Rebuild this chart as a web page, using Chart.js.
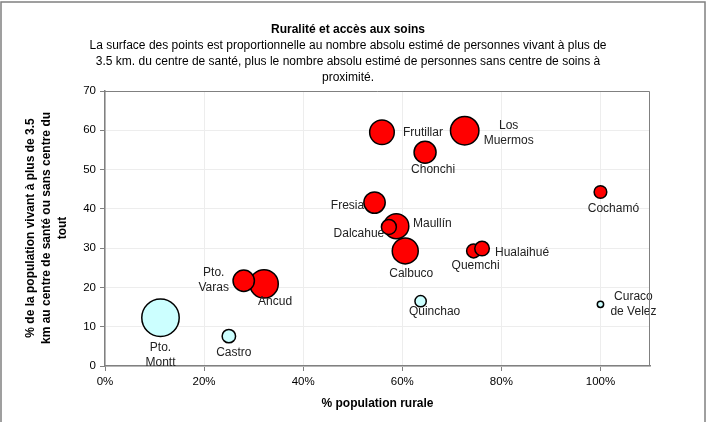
<!DOCTYPE html>
<html>
<head>
<meta charset="utf-8">
<script src="https://cdn.jsdelivr.net/npm/chart.js@4.4.1/dist/chart.umd.min.js"></script>
<style>
  html, body { margin: 0; padding: 0; background: #fff; }
  #wrap { width: 709px; height: 422px; position: relative; }
</style>
</head>
<body>
<div id="wrap"><canvas id="chart" width="709" height="422"></canvas></div>
<script>
// communes with people living far from a health centre (red)
var farNames = ["Los Muermos", "Calbuco", "Ancud", "Maullín", "Frutillar", "Chonchi",
                "Fresia", "Pto. Varas", "Dalcahue", "Quemchi", "Hualaihué", "Cochamó"];
var farRural = [72.6, 60.6, 32.1, 58.8, 55.9, 64.6, 54.4, 28.0, 57.3, 74.4, 76.1, 100];
var farPct = [59.9, 29.3, 20.9, 35.6, 59.5, 54.4, 41.6, 21.7, 35.4, 29.3, 29.9, 44.3];
var farPeople = [20200, 16900, 20200, 15600, 15100, 12100, 11400, 11400, 5600, 4900, 5300, 4000];

// the other communes (light blue)
var nearNames = ["Pto. Montt", "Castro", "Quinchao", "Curaco de Velez"];
var nearRural = [11.2, 25.0, 63.7, 100];
var nearPct = [12.3, 7.6, 16.5, 15.7];
var nearPeople = [35000, 4500, 3200, 1000];

var xTicks = [0, 20, 40, 60, 80, 100];

// where each label sits from its bubble centre: [dx, dy], line breaks with \n
var labelLayout = {
    "Pto. Montt": [0, 30, "Pto.\nMontt"],
    "Castro": [5, 17],
    "Pto. Varas": [-30, -8, "Pto.\nVaras"],
    "Ancud": [11, 18],
    "Fresia": [-27, 3],
    "Frutillar": [41, 0],
    "Dalcahue": [-30, 7],
    "Maullín": [36, -2],
    "Calbuco": [6, 23],
    "Chonchi": [8, 17],
    "Los Muermos": [44, -5, "Los\nMuermos"],
    "Quemchi": [2, 15],
    "Hualaihué": [40, 4],
    "Quinchao": [14, 11],
    "Cochamó": [13, 17],
    "Curaco de Velez": [33, -8, "Curaco\nde Velez"]
};

function points(xs, ys, people){
    var out = [];
    for (var i = 0; i < xs.length; i++){
        out.push({x: xs[i], y: ys[i], r: Math.sqrt(people[i]) / 10});
    }
    return out;
}

var FONT = "'Liberation Sans', Arial, sans-serif";

var decor = {
    id: "decor",
    beforeDraw: function(chart){
        var ctx = chart.ctx;
        ctx.save();
        ctx.fillStyle = "#fff";
        ctx.fillRect(0, 0, chart.width, chart.height);
        ctx.strokeStyle = "#808080";
        ctx.lineWidth = 1.5;
        ctx.strokeRect(1, 2, 704, 430);
        ctx.restore();
    },
    afterDraw: function(chart){
        var ctx = chart.ctx;
        var a = chart.chartArea;
        ctx.save();
        ctx.fillStyle = "#000";
        ctx.textAlign = "center";
        ctx.textBaseline = "middle";
        ctx.font = "bold 12px " + FONT;
        ctx.fillText("Ruralité et accès aux soins", 348, 30);
        ctx.font = "12px " + FONT;
        ctx.fillText("La surface des points est proportionnelle au nombre absolu estimé de personnes vivant à plus de", 348, 46);
        ctx.fillText("3.5 km. du centre de santé, plus le nombre absolu estimé de personnes sans centre de soins à", 348, 62);
        ctx.fillText("proximité.", 348, 78);

        ctx.font = "bold 12px " + FONT;
        ctx.fillText("% population rurale", (a.left + a.right) / 2, 404);
        ctx.translate(0, 228);
        ctx.rotate(-Math.PI / 2);
        ctx.fillText("% de la population vivant à plus de 3.5", 0, 31);
        ctx.fillText("km au centre de santé ou sans centre du", 0, 47);
        ctx.fillText("tout", 0, 63);
        ctx.restore();

        // plot area frame (top and right sides)
        ctx.save();
        ctx.strokeStyle = "#808080";
        ctx.lineWidth = 1;
        ctx.beginPath();
        ctx.moveTo(a.left, a.top + 0.5);
        ctx.lineTo(a.right - 0.5, a.top + 0.5);
        ctx.lineTo(a.right - 0.5, a.bottom);
        ctx.stroke();
        ctx.restore();
    },
    afterDatasetsDraw: function(chart){
        var ctx = chart.ctx;
        ctx.save();
        ctx.font = "12px " + FONT;
        ctx.fillStyle = "#222";
        ctx.textAlign = "center";
        ctx.textBaseline = "middle";
        chart.data.datasets.forEach(function(ds, di){
            var meta = chart.getDatasetMeta(di);
            meta.data.forEach(function(el, i){
                var name = ds.names[i];
                var lay = labelLayout[name];
                var lines = (lay[2] || name).split("\n");
                lines.forEach(function(t, k){
                    ctx.fillText(t, el.x + lay[0], el.y + lay[1] + k * 15);
                });
            });
        });
        ctx.restore();
    }
};

var ctx = document.getElementById("chart").getContext("2d");
new Chart(ctx, {
    type: "bubble",
    data: {
        datasets: [
            {
                names: nearNames,
                data: points(nearRural, nearPct, nearPeople),
                backgroundColor: "#ccffff",
                borderColor: "#000",
                borderWidth: 1.5,
                hoverBorderWidth: 1.5
            },
            {
                names: farNames,
                data: points(farRural, farPct, farPeople),
                backgroundColor: "#ff0000",
                borderColor: "#000",
                borderWidth: 1.5,
                hoverBorderWidth: 1.5
            }
        ]
    },
    options: {
        responsive: false,
        animation: false,
        events: [],
        layout: { padding: { top: 91, right: 59, left: 0, bottom: 0 } },
        plugins: {
            legend: { display: false },
            tooltip: { enabled: false }
        },
        scales: {
            x: {
                type: "linear",
                min: 0,
                max: 110,
                afterBuildTicks: function(scale){
                    scale.ticks = xTicks.map(function(v){ return {value: v}; });
                },
                afterFit: function(scale){ scale.height = 56; },
                ticks: {
                    callback: function(v){ return v + "%"; },
                    color: "#000",
                    font: { family: FONT, size: 11.5 },
                    padding: 4,
                    maxRotation: 0
                },
                grid: { color: "#ededed", tickColor: "#808080", tickLength: 5, lineWidth: 1 },
                border: { color: "#808080", width: 1.5 }
            },
            y: {
                type: "linear",
                min: 0,
                max: 70,
                ticks: {
                    stepSize: 10,
                    color: "#000",
                    font: { family: FONT, size: 11.5 },
                    padding: 4
                },
                afterFit: function(scale){ scale.width = 105; },
                grid: { color: "#ededed", tickColor: "#808080", tickLength: 5, lineWidth: 1 },
                border: { color: "#808080", width: 1.5 }
            }
        }
    },
    plugins: [decor]
});
</script>
</body>
</html>
